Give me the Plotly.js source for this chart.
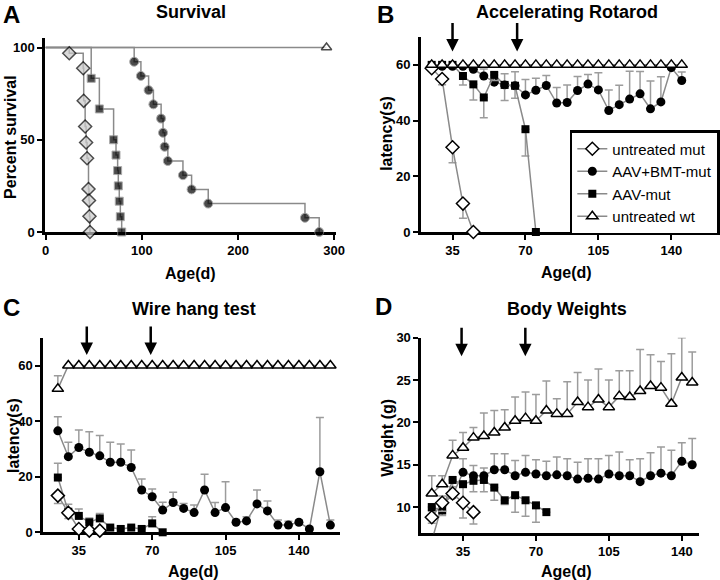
<!DOCTYPE html>
<html>
<head>
<meta charset="utf-8">
<script src="https://cdn.plot.ly/plotly-3.0.1.min.js"></script>
<style>
  body { margin: 0; background: white; }
  #plot { width: 720px; height: 580px; }
</style>
</head>
<body>
<div id="plot"></div>
<script>
// ---- A: survival (Kaplan-Meier steps, first point = start at 100%)
let survDaysMut = [0, 24.5, 39, 39.5, 41, 42, 43, 44.5, 45, 45.5, 46];
let survMut     = [100, 96.9, 88.8, 71.1, 57.2, 48.5, 40, 23.3, 17.1, 8.5, 0];
let survDaysBMT = [0, 92, 99, 107, 112, 120, 122, 123.7, 127, 142.7, 151.7, 169, 269.6, 284.4];
let survBMT     = [100, 92.3, 84.6, 76.9, 69.2, 61.5, 53.8, 46.2, 38.5, 30.8, 23.1, 15.4, 7.7, 0];
let survDaysAAV = [0, 47.3, 55.8, 70.6, 73.1, 74.8, 75.5, 76.5, 77.6, 79];
let survAAV     = [100, 83.3, 66.7, 50, 41.7, 33.3, 25, 16.7, 8.3, 0];
let survDaysWT  = [0, 292];
let survWT      = [100, 100];

// ---- B: accelerating rotarod
let rotDaysMut = [25, 30, 35, 40, 45];
let rotMut     = [58.8, 54.9, 30.4, 10.2, 0];
let rotMutErr  = [0.5, 2, 5.5, 5.3, 0];
let rotDaysBMT = [25, 30, 35, 40, 45, 50, 55, 60, 65, 70, 75, 80, 85, 90, 95, 100, 105, 110, 115, 120, 125, 130, 135, 140, 145];
let rotBMT     = [59, 59.5, 59.5, 59.5, 58.4, 56, 53.8, 52.8, 52.5, 49.2, 50.9, 52.6, 46.3, 46.5, 50.8, 53.1, 51, 43.6, 45.7, 47.7, 49.6, 44.2, 46.7, 59, 54.4];
let rotBMTErr  = [0.5, 0.5, 0.5, 0.5, 1.5, 2.5, 3.5, 4, 5, 5.5, 4.3, 3.6, 5.6, 6.3, 5, 3.4, 6.2, 7.4, 7, 10, 8, 10, 9, 1, 3];
let rotDaysAAV = [25, 30, 35, 40, 45, 50, 55, 60, 65, 70, 75];
let rotAAV     = [60, 60, 60, 56, 53, 48.3, 56.4, 52.8, 52.5, 36.9, 0];
let rotAAVErr  = [0, 0, 0, 3.2, 5.6, 7.3, 2, 5.6, 4.5, 9.6, 0];
let rotDaysWT  = rotDaysBMT;
let rotWT      = [60, 60, 60, 60, 60, 60, 60, 60, 60, 60, 60, 60, 60, 60, 60, 60, 60, 60, 60, 60, 60, 60, 60, 60, 60];
let rotArrows  = [35, 66];

// ---- C: wire hang test
let wireDaysMut = [25, 30, 35, 40, 45];
let wireMut     = [13.2, 7, 1.2, 0.6, 0.6];
let wireMutErr  = [2.8, 2, 0.5, 0, 0];
let wireDaysBMT = [25, 30, 35, 40, 45, 50, 55, 60, 65, 70, 75, 80, 85, 90, 95, 100, 105, 110, 115, 120, 125, 130, 135, 140, 145, 150, 155];
let wireBMT     = [36.5, 27.2, 30.5, 28.8, 27.5, 25.2, 25.2, 23.3, 15.2, 12.8, 8, 10.7, 8.6, 7.1, 15.2, 7.1, 8.9, 3.6, 4.1, 10.2, 7.7, 2.6, 2.6, 3.6, 1.2, 21.8, 2.6];
let wireBMTErr  = [5.1, 5.2, 6.3, 7.4, 7.3, 7.2, 6.6, 6.3, 4, 2.8, 2.8, 3.7, 1.8, 2.7, 5.7, 3.6, 9.3, 1, 1.5, 5, 3.6, 1.8, 1.4, 0.8, 0.8, 19.5, 1.8];
let wireDaysAAV = [25, 30, 35, 40, 45, 50, 55, 60, 65, 70, 75];
let wireAAV     = [19.7, 7.4, 5.9, 3.6, 5, 1.7, 1.2, 1.7, 1.2, 3.2, 0];
let wireAAVErr  = [5.1, 2.7, 2.5, 1.5, 1.8, 0.5, 0.5, 0.5, 0.5, 2.4, 0];
let wireDaysWT  = wireDaysBMT;
let wireWT      = [51.6, 60, 60, 60, 60, 60, 60, 60, 60, 60, 60, 60, 60, 60, 60, 60, 60, 60, 60, 60, 60, 60, 60, 60, 60, 60, 60];
let wireWTErr   = [4.7, 0, 0, 0, 0, 0, 0, 0, 0, 0, 0, 0, 0, 0, 0, 0, 0, 0, 0, 0, 0, 0, 0, 0, 0, 0, 0];
let wireArrows  = [38.8, 69.3];

// ---- D: body weights
let wtDaysMut = [20, 25, 30, 35, 40];
let wtMut     = [8.8, 10.5, 11.6, 10.5, 9.4];
let wtMutErr  = [0.7, 1.0, 0.5, 1.8, 1.4];
let wtDaysBMT = [20, 25, 30, 35, 40, 45, 50, 55, 60, 65, 70, 75, 80, 85, 90, 95, 100, 105, 110, 115, 120, 125, 130, 135, 140, 145];
let wtBMT     = [6.0, 10.3, 11.4, 14.1, 13.7, 13.7, 14.4, 14.4, 13.7, 14.1, 13.9, 13.7, 13.8, 13.7, 13.3, 13.4, 13.3, 13.9, 13.7, 13.7, 13.0, 13.7, 14.0, 13.7, 15.4, 15.0];
let wtBMTErr  = [0, 1, 1, 1.6, 1.2, 0.9, 1.9, 1.9, 1.8, 2.0, 1.7, 1.7, 2.1, 2.0, 2.0, 2.3, 2.4, 2.2, 2.8, 1.9, 2.7, 2.7, 3.1, 3.0, 2.2, 3.1];
let wtDaysAAV = [20, 25, 30, 35, 40, 45, 50, 55, 60, 65, 70, 75];
let wtAAV     = [10.0, 9.6, 13.2, 12.7, 13.1, 13.2, 12.3, 10.8, 11.4, 10.8, 10.2, 9.4];
let wtAAVErr  = [0.5, 0.6, 1.5, 1.9, 1.3, 1.4, 1.5, 0.5, 2.0, 1.9, 2.0, 0];
let wtDaysWT  = wtDaysBMT;
let wtWT      = [11.6, 12.7, 16.1, 17.0, 18.2, 18.4, 18.8, 19.4, 20.2, 20.5, 20.2, 21.4, 21.0, 21.0, 22.4, 21.8, 22.7, 21.8, 23.1, 23.0, 23.7, 24.3, 24.1, 22.2, 25.3, 24.7];
let wtWTErr   = [2.1, 1.0, 1.8, 1.8, 1.2, 2.7, 2.6, 2.1, 2.8, 3.1, 3.1, 3.5, 1.8, 3.8, 3.5, 3.2, 3.6, 3.2, 3.0, 3.1, 4.9, 3.7, 3.1, 5.9, 4.7, 3.6];
let wtArrows  = [34.3, 64.9];

let groupNames = ["untreated mut", "AAV+BMT-mut", "AAV-mut", "untreated wt"];

// styles
let FONT = '"Liberation Sans", Arial, sans-serif';
let lineGray = '#8a8a8a';
let errGray = '#9c9c9c';

let markers = {
  mut: {symbol: 'diamond', size: 10, color: 'white', line: {color: 'black', width: 1.5}},
  bmt: {symbol: 'circle', size: 9, color: 'black'},
  aav: {symbol: 'square', size: 8, color: 'black'},
  wt:  {symbol: 'triangle-up', size: 10, color: 'white', line: {color: 'black', width: 1.5}}
};

function errUp(arr) {
  return {type: 'data', symmetric: false, array: arr, arrayminus: arr.map(() => 0),
          color: errGray, thickness: 1.5, width: 4};
}
function errDown(arr) {
  return {type: 'data', symmetric: false, array: arr.map(() => 0), arrayminus: arr,
          color: errGray, thickness: 1.5, width: 4};
}

function series(xs, ys, key, name, rank, xa, ya, err, legend) {
  return {
    x: xs, y: ys, type: 'scatter', mode: 'lines+markers',
    name: name, legendrank: rank, showlegend: !!legend, legendgroup: key,
    xaxis: xa, yaxis: ya,
    line: {color: lineGray, width: 1.5},
    marker: markers[key],
    error_y: err,
    cliponaxis: false,
    hoverinfo: 'skip'
  };
}

// survival traces (no symbol on the starting point)
function kmTrace(xs, ys, key, sz) {
  let m = Object.assign({}, markers[key]);
  m.size = xs.map((d, i) => i === 0 ? 0 : sz);
  if (key === 'mut') m.color = '#c9c9c9';
  return {
    x: xs, y: ys, type: 'scatter', mode: 'lines+markers',
    xaxis: 'x', yaxis: 'y', showlegend: false,
    line: {color: lineGray, width: 1.5, shape: 'hv'},
    marker: m, cliponaxis: false, hoverinfo: 'skip'
  };
}

let traces = [
  kmTrace(survDaysWT, survWT, 'wt', 9),
  kmTrace(survDaysBMT, survBMT, 'bmt', 9),
  kmTrace(survDaysAAV, survAAV, 'aav', 8),
  kmTrace(survDaysMut, survMut, 'mut', 10),

  series(rotDaysBMT, rotBMT, 'bmt', groupNames[1], 2, 'x2', 'y2', errUp(rotBMTErr), true),
  series(rotDaysAAV, rotAAV, 'aav', groupNames[2], 3, 'x2', 'y2', errDown(rotAAVErr), true),
  series(rotDaysMut, rotMut, 'mut', groupNames[0], 1, 'x2', 'y2', errDown(rotMutErr), true),
  series(rotDaysWT, rotWT, 'wt', groupNames[3], 4, 'x2', 'y2', undefined, true),

  series(wireDaysBMT, wireBMT, 'bmt', groupNames[1], 2, 'x3', 'y3', errUp(wireBMTErr)),
  series(wireDaysAAV, wireAAV, 'aav', groupNames[2], 3, 'x3', 'y3', errUp(wireAAVErr)),
  series(wireDaysMut, wireMut, 'mut', groupNames[0], 1, 'x3', 'y3', errDown(wireMutErr)),
  series(wireDaysWT, wireWT, 'wt', groupNames[3], 4, 'x3', 'y3', errUp(wireWTErr)),

  series(wtDaysBMT, wtBMT, 'bmt', groupNames[1], 2, 'x4', 'y4', errUp(wtBMTErr)),
  series(wtDaysAAV, wtAAV, 'aav', groupNames[2], 3, 'x4', 'y4', errDown(wtAAVErr)),
  series(wtDaysWT, wtWT, 'wt', groupNames[3], 4, 'x4', 'y4', errUp(wtWTErr)),
  series(wtDaysMut, wtMut, 'mut', groupNames[0], 1, 'x4', 'y4', errDown(wtMutErr))
];
// first body-weight point of AAV+BMT lies below the axis: keep it clipped
traces[12].cliponaxis = true;

// page pixels -> paper coords
function px(x) { return x / 720; }
function py(y) { return 1 - y / 580; }

function axis(x0, x1, range, ticks, anchor, horizontal) {
  return {
    domain: horizontal ? [px(x0), px(x1)] : [py(x1), py(x0)],
    range: range, tickmode: 'array', tickvals: ticks, anchor: anchor,
    showline: true, linecolor: 'black', linewidth: 2.5,
    ticks: 'outside', ticklen: 5, tickwidth: 2, tickcolor: 'black',
    showgrid: false, zeroline: false, layer: 'below traces', fixedrange: true,
    tickfont: {family: FONT, size: 13, weight: 'bold', color: 'black'}
  };
}

function label(text, x, y, size, angle) {
  return {
    text: text, xref: 'paper', yref: 'paper', x: px(x), y: py(y),
    xanchor: 'center', yanchor: 'middle', showarrow: false, textangle: angle || 0,
    font: {family: FONT, size: size, weight: 'bold', color: 'black'}
  };
}

function arrow(day, yval, xa, ya) {
  return {
    text: '', x: day, y: yval, xref: xa, yref: ya, showarrow: true,
    ax: 0, ay: -30, arrowhead: 2, arrowsize: 1, arrowwidth: 2.5, arrowcolor: 'black'
  };
}

let annotations = [
  label('A', 12, 14, 24), label('B', 388, 14, 24), label('C', 12, 307, 24), label('D', 386, 306, 24),
  label('Survival', 192, 12, 18), label('Accelerating Rotarod', 570, 12, 18),
  label('Wire hang test', 195, 309, 18), label('Body Weights', 570, 309, 18),
  label('Age(d)', 192, 273, 16), label('Age(d)', 570, 272, 16),
  label('Age(d)', 195, 571, 16), label('Age(d)', 570, 571, 16),
  label('Percent survival', 11, 137, 16, -90), label('latency(s)', 389, 133, 16, -90),
  label('latency(s)', 13, 435, 16, -90), label('Weight (g)', 389, 438, 16, -90)
];
rotArrows.forEach(d => annotations.push(arrow(d, 64.8, 'x2', 'y2')));
wireArrows.forEach(d => annotations.push(arrow(d, 63.8, 'x3', 'y3')));
wtArrows.forEach(d => annotations.push(arrow(d, 27.8, 'x4', 'y4')));

let layout = {
  width: 720, height: 580,
  margin: {l: 0, r: 0, t: 0, b: 0},
  paper_bgcolor: 'white', plot_bgcolor: 'white',
  font: {family: FONT, color: 'black'},
  xaxis:  axis(45, 338, [-1, 302], [0, 100, 200, 300], 'y', true),
  yaxis:  axis(38.3, 232, [0, 105], [0, 50, 100], 'x', false),
  xaxis2: axis(423, 713, [19.7, 158.1], [35, 70, 105, 140], 'y2', true),
  yaxis2: axis(37, 232, [0, 70], [0, 20, 40, 60], 'x2', false),
  xaxis3: axis(43, 341.7, [17.8, 159.5], [35, 70, 105, 140], 'y3', true),
  yaxis3: axis(337.7, 532.3, [0, 70], [0, 20, 40, 60], 'x3', false),
  xaxis4: axis(423.3, 703, [14.8, 148.3], [35, 70, 105, 140], 'y4', true),
  yaxis4: axis(337.7, 533.3, [6.9, 30], [10, 15, 20, 25, 30], 'x4', false),
  showlegend: true,
  legend: {
    x: px(573), y: py(130), xanchor: 'left', yanchor: 'top',
    bgcolor: 'white', bordercolor: 'black', borderwidth: 2.5,
    font: {family: FONT, size: 15, color: 'black'},
    traceorder: 'normal'
  },
  annotations: annotations
};

Plotly.newPlot('plot', traces, layout, {staticPlot: true});
</script>
</body>
</html>
